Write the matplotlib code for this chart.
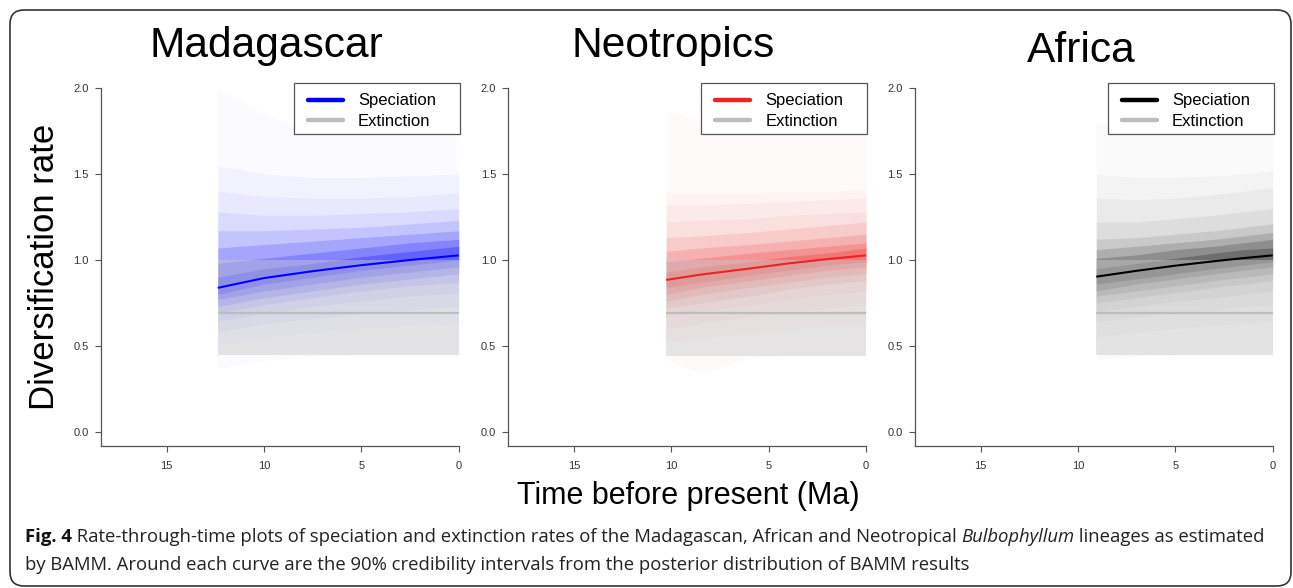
import matplotlib
matplotlib.use("Agg")
import matplotlib.pyplot as plt
from matplotlib.patches import FancyBboxPatch, Rectangle
from matplotlib.lines import Line2D
from matplotlib.transforms import IdentityTransform

W, H = 1293, 588

# ---------------- data ----------------
regions = ["Madagascar", "Neotropics", "Africa"]
spec_colors = ["#0000ff", "#ee2222", "#000000"]
ext_color = "#bdbdbd"

x_ticks = [15, 10, 5, 0]
x_ticklabels = ["15", "10", "5", "0"]
y_ticks = [0.0, 0.5, 1.0, 1.5, 2.0]
y_ticklabels = ["0.0", "0.5", "1.0", "1.5", "2.0"]

# Madagascar
mad_time = [12.38, 10.0, 7.5, 5.0, 2.5, 0.0]
mad_speciation = [0.838, 0.895, 0.935, 0.970, 1.000, 1.027]
mad_extinction = [0.692, 0.692, 0.692, 0.692, 0.692, 0.692]
mad_ext_lo = [0.445, 0.445, 0.445, 0.445, 0.445, 0.445]
mad_ext_hi = [1.000, 1.000, 1.000, 1.000, 1.000, 1.000]
mad_spec_lo = [
    [0.37, 0.42, 0.44, 0.445, 0.445, 0.445],
    [0.50, 0.55, 0.58, 0.60, 0.62, 0.63],
    [0.58, 0.63, 0.66, 0.69, 0.71, 0.73],
    [0.64, 0.69, 0.73, 0.76, 0.79, 0.81],
    [0.69, 0.74, 0.78, 0.82, 0.85, 0.87],
    [0.73, 0.78, 0.82, 0.86, 0.89, 0.92],
    [0.77, 0.82, 0.86, 0.90, 0.93, 0.96],
    [0.80, 0.86, 0.90, 0.94, 0.97, 1.00],
]
mad_spec_hi = [
    [2.00, 1.85, 1.74, 1.74, 1.75, 1.76],
    [1.55, 1.50, 1.48, 1.48, 1.49, 1.50],
    [1.40, 1.37, 1.36, 1.36, 1.37, 1.39],
    [1.28, 1.26, 1.26, 1.27, 1.28, 1.30],
    [1.17, 1.17, 1.18, 1.19, 1.21, 1.23],
    [1.07, 1.09, 1.11, 1.13, 1.15, 1.17],
    [0.98, 1.01, 1.04, 1.07, 1.10, 1.12],
    [0.90, 0.95, 0.98, 1.02, 1.05, 1.08],
]

# Neotropics
neo_time = [10.27, 8.5, 6.0, 4.0, 2.0, 0.0]
neo_speciation = [0.884, 0.915, 0.950, 0.980, 1.005, 1.027]
neo_extinction = [0.692, 0.692, 0.692, 0.692, 0.692, 0.692]
neo_ext_lo = [0.440, 0.440, 0.440, 0.440, 0.440, 0.440]
neo_ext_hi = [1.000, 1.000, 1.000, 1.000, 1.000, 1.000]
neo_spec_lo = [
    [0.42, 0.34, 0.43, 0.44, 0.44, 0.445],
    [0.52, 0.55, 0.58, 0.60, 0.62, 0.63],
    [0.60, 0.63, 0.67, 0.70, 0.72, 0.74],
    [0.67, 0.70, 0.74, 0.77, 0.80, 0.82],
    [0.72, 0.75, 0.79, 0.83, 0.86, 0.88],
    [0.76, 0.80, 0.84, 0.87, 0.90, 0.92],
    [0.80, 0.84, 0.88, 0.91, 0.94, 0.96],
    [0.84, 0.87, 0.91, 0.94, 0.97, 0.99],
]
neo_spec_hi = [
    [1.87, 1.82, 1.79, 1.79, 1.80, 1.82],
    [1.39, 1.39, 1.39, 1.40, 1.40, 1.41],
    [1.32, 1.32, 1.33, 1.34, 1.35, 1.36],
    [1.22, 1.23, 1.24, 1.26, 1.27, 1.28],
    [1.13, 1.14, 1.16, 1.18, 1.20, 1.22],
    [1.05, 1.07, 1.09, 1.11, 1.13, 1.15],
    [0.99, 1.01, 1.04, 1.06, 1.08, 1.10],
    [0.93, 0.96, 0.99, 1.02, 1.04, 1.07],
]

# Africa
afr_time = [9.07, 7.0, 5.0, 3.0, 1.5, 0.0]
afr_speciation = [0.903, 0.937, 0.967, 0.993, 1.011, 1.027]
afr_extinction = [0.692, 0.692, 0.692, 0.692, 0.692, 0.692]
afr_ext_lo = [0.445, 0.445, 0.445, 0.445, 0.445, 0.445]
afr_ext_hi = [1.000, 1.000, 1.000, 1.000, 1.000, 1.000]
afr_spec_lo = [
    [0.42, 0.44, 0.445, 0.445, 0.445, 0.445],
    [0.55, 0.58, 0.60, 0.62, 0.63, 0.64],
    [0.64, 0.67, 0.69, 0.71, 0.73, 0.74],
    [0.70, 0.73, 0.76, 0.78, 0.80, 0.82],
    [0.75, 0.78, 0.81, 0.84, 0.86, 0.88],
    [0.79, 0.82, 0.85, 0.88, 0.90, 0.92],
    [0.82, 0.86, 0.89, 0.92, 0.94, 0.96],
    [0.86, 0.89, 0.92, 0.95, 0.97, 0.99],
]
afr_spec_hi = [
    [1.80, 1.76, 1.75, 1.75, 1.76, 1.77],
    [1.50, 1.48, 1.48, 1.49, 1.50, 1.52],
    [1.36, 1.35, 1.36, 1.38, 1.40, 1.42],
    [1.22, 1.22, 1.24, 1.26, 1.28, 1.30],
    [1.12, 1.13, 1.15, 1.17, 1.19, 1.21],
    [1.06, 1.08, 1.10, 1.12, 1.14, 1.16],
    [1.01, 1.03, 1.06, 1.08, 1.10, 1.12],
    [0.95, 0.98, 1.01, 1.04, 1.06, 1.07],
]

band_alphas = [0.02, 0.03, 0.04, 0.06, 0.10, 0.15, 0.20, 0.25]
alpha_scale = [1.0, 1.0, 0.9]

panels = [
    (mad_time, mad_speciation, mad_extinction, mad_ext_lo, mad_ext_hi, mad_spec_lo, mad_spec_hi),
    (neo_time, neo_speciation, neo_extinction, neo_ext_lo, neo_ext_hi, neo_spec_lo, neo_spec_hi),
    (afr_time, afr_speciation, afr_extinction, afr_ext_lo, afr_ext_hi, afr_spec_lo, afr_spec_hi),
]

# ---------------- layout ----------------
plt.rcParams["font.family"] = ["Liberation Sans", "DejaVu Sans"]
fig = plt.figure(figsize=(W / 100, H / 100), dpi=100)

ax_left_px = [101, 508.3, 915]
ax_w_px = 357.7
ax_top_px, ax_bot_px = 74.24, 446.0
title_x_px = [266.5, 673, 1081]
title_base_px = [57.3, 57.3, 62.0]

for i, (name, col, data) in enumerate(zip(regions, spec_colors, panels)):
    t, sp, ex, elo, ehi, slo, shi = data
    ax = fig.add_axes([ax_left_px[i] / W, 1 - ax_bot_px / H, ax_w_px / W,
                       (ax_bot_px - ax_top_px) / H])
    # speciation credibility shading
    for lo, hi, a in zip(slo, shi, band_alphas):
        ax.fill_between(t, lo, hi, color=col, alpha=a * alpha_scale[i], lw=0, zorder=1)
    # extinction credibility band (drawn over)
    ax.fill_between(t, elo, ehi, color="#c8c8c8", alpha=0.45, lw=0, zorder=2)
    ax.plot(t, ex, color=ext_color, lw=1.6, zorder=3, solid_capstyle="butt")
    ax.plot(t, sp, color=col, lw=1.5, zorder=4, solid_capstyle="butt")

    ax.set_xlim(18.38, 0)
    ax.set_ylim(-0.0814, 2.08)
    ax.set_xticks(x_ticks)
    ax.set_xticklabels(x_ticklabels)
    ax.set_yticks(y_ticks)
    ax.set_yticklabels(y_ticklabels)
    for s in ["top", "right"]:
        ax.spines[s].set_visible(False)
    for s in ["left", "bottom"]:
        ax.spines[s].set_color("#555555")
        ax.spines[s].set_linewidth(0.9)
    ax.spines["left"].set_bounds(-0.0814, 2.0)
    ax.tick_params(axis="both", length=4.3, width=0.8, color="#555555",
                   labelsize=8, labelcolor="#333333")
    ax.tick_params(axis="x", pad=6.5)
    ax.tick_params(axis="y", pad=4.5)
    ax.patch.set_visible(False)

    # legend frame + legend
    ax.add_patch(Rectangle((0.5396, 0.8392), 0.4634, 0.1372, transform=ax.transAxes,
                           facecolor="white", edgecolor="#555555", lw=0.9,
                           zorder=6, clip_on=False))
    handles = [Line2D([], [], color=col, lw=3.2, solid_capstyle="round"),
               Line2D([], [], color=ext_color, lw=3.2, solid_capstyle="round")]
    leg = ax.legend(handles, ["Speciation", "Extinction"], loc="upper left",
                    bbox_to_anchor=(0.5787, 0.9485), frameon=False, fontsize=12,
                    borderpad=0, borderaxespad=0, handlelength=2.1,
                    handletextpad=0.9, labelspacing=0.34)
    leg.set_zorder(7)

    fig.text(title_x_px[i] / W, 1 - title_base_px[i] / H, name, fontsize=30.6,
             ha="center", va="baseline")

fig.text(27.5 / W, 1 - 266.5 / H, "Diversification rate", rotation=90, fontsize=25,
         ha="left", va="center")
fig.text(688 / W, 1 - 504 / H, "Time before present (Ma)", fontsize=22,
         ha="center", va="baseline")

# ---------------- caption ----------------
cap_line1 = [
    ("Fig. 4", dict(fontweight="bold", color="#111111")),
    (" Rate-through-time plots of speciation and extinction rates of the Madagascan, "
     "African and Neotropical ", dict(color="#222222")),
    ("Bulbophyllum", dict(fontstyle="italic", color="#222222")),
    (" lineages as estimated", dict(color="#222222")),
]
cap_line2 = [
    ("by BAMM. Around each curve are the 90% credibility intervals from the posterior "
     "distribution of BAMM results", dict(color="#222222")),
]

renderer = fig.canvas.get_renderer()


def draw_line(segs, x0, ybase, size):
    objs = []
    x = x0
    for s, kw in segs:
        tt = fig.text(x / W, 1 - ybase / H, s, fontsize=size, ha="left", va="baseline",
                      family=["Open Sans", "DejaVu Sans"], **kw)
        bb = tt.get_window_extent(renderer=renderer)
        x += bb.width
        objs.append(tt)
    return objs, x - x0


size0 = 12.0
objs, wid = draw_line(cap_line1, 25, 541.7, size0)
for o in objs:
    o.remove()
size = size0 * (1235.0 / wid)
draw_line(cap_line1, 25, 541.7, size)
draw_line(cap_line2, 25, 570.0, size)

# border
fig.patches.append(FancyBboxPatch((10, 2), 1281, 576,
                                  boxstyle="round,pad=0,rounding_size=14",
                                  transform=IdentityTransform(), fill=False,
                                  edgecolor="#333333", lw=1.2))

fig.savefig("out.png", dpi=100)
